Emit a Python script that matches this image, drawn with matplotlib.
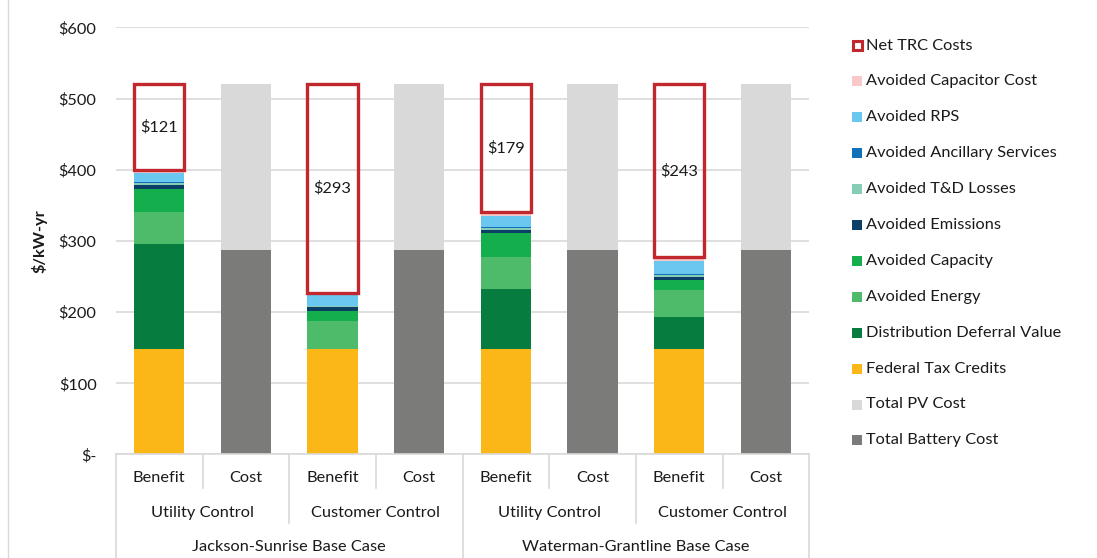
import numpy as np
import matplotlib.pyplot as plt
from matplotlib.patches import Rectangle
from matplotlib.lines import Line2D

plt.rcParams['font.family'] = ['Lato', 'DejaVu Sans']

# x slots: benefit/cost pairs for each control case
bar_labels = ['Benefit', 'Cost'] * 4
control_labels = ['Utility Control', 'Customer Control', 'Utility Control', 'Customer Control']
case_labels = ['Jackson-Sunrise Base Case', 'Waterman-Grantline Base Case']

# $/kW-yr, one entry per slot (zero where a component does not apply)
federal_tax_credits = [148, 0, 148, 0, 148, 0, 148, 0]
distribution_deferral = [148, 0, 0, 0, 85, 0, 45, 0]
avoided_energy = [44, 0, 39, 0, 44, 0, 38.5, 0]
avoided_capacity = [33, 0, 14.5, 0, 34, 0, 14, 0]
avoided_emissions = [5, 0, 5, 0, 4, 0, 4.5, 0]
avoided_td_losses = [2.8, 0, 1.5, 0, 2.5, 0, 2, 0]
avoided_ancillary = [1.4, 0, 0.5, 0, 1.5, 0, 1, 0]
avoided_rps = [12.6, 0, 15, 0, 16, 0, 19, 0]
avoided_capacitor = [4.2, 0, 3.5, 0, 6, 0, 5, 0]
total_battery_cost = [0, 287, 0, 287, 0, 287, 0, 287]
total_pv_cost = [0, 233, 0, 233, 0, 233, 0, 233]
net_trc_costs = [121, 0, 293, 0, 179, 0, 243, 0]

stack = [
    ('Total Battery Cost', total_battery_cost, '#7b7b79'),
    ('Total PV Cost', total_pv_cost, '#d9d9d9'),
    ('Federal Tax Credits', federal_tax_credits, '#fbb617'),
    ('Distribution Deferral Value', distribution_deferral, '#067c3f'),
    ('Avoided Energy', avoided_energy, '#4dbb6a'),
    ('Avoided Capacity', avoided_capacity, '#14ae4c'),
    ('Avoided Emissions', avoided_emissions, '#0b3f66'),
    ('Avoided T&D Losses', avoided_td_losses, '#85cdb5'),
    ('Avoided Ancillary Services', avoided_ancillary, '#1170ba'),
    ('Avoided RPS', avoided_rps, '#6ac8f0'),
    ('Avoided Capacitor Cost', avoided_capacitor, '#f9c9c9'),
]
trc_color = '#c0282d'
text_color = '#1a1a1a'
grid_color = '#d9d9d9'
fs = 11.8

fig = plt.figure(figsize=(10.97, 5.58), dpi=100)
ax = fig.add_axes([0.1057, 0.1855, 0.632, 0.7655])

x = np.arange(len(bar_labels))
width = 0.58
bottom = np.zeros(len(x))
for name, vals, color in stack:
    vals = np.array(vals, dtype=float)
    ax.bar(x, vals, width, bottom=bottom, color=color, zorder=2)
    bottom += vals

# net TRC shown as an outlined box on top of the benefit stacks
net = np.array(net_trc_costs, dtype=float)
for xi, b, n in zip(x, bottom, net):
    if n > 0:
        ax.bar(xi, n, width, bottom=b, facecolor='none', edgecolor=trc_color,
               linewidth=2.4, zorder=3)
        ax.text(xi, b + n / 2, f'${n:.0f}', ha='center', va='center',
                fontsize=fs, color=text_color, zorder=4)

ax.set_xlim(-0.5, len(x) - 0.5)
ax.set_ylim(0, 600)
ax.set_yticks(np.arange(0, 601, 100))
ax.set_yticklabels(['$-'] + [f'${v}' for v in range(100, 601, 100)])
ax.tick_params(axis='y', length=0, pad=14, labelsize=fs, colors=text_color)
ax.set_xticks([])
ax.yaxis.grid(True, color=grid_color, linewidth=1.2, zorder=0)
ax.set_axisbelow(True)
for s in ['top', 'right', 'left']:
    ax.spines[s].set_visible(False)
ax.spines['bottom'].set_color(grid_color)
ax.spines['bottom'].set_linewidth(1.2)
ax.set_ylabel('$/kW-yr', fontsize=fs, fontweight='bold', color=text_color, labelpad=8)

# multi-level category axis
tr = ax.get_xaxis_transform()
y1, y2, y3 = -0.055, -0.137, -0.217
for xi, lab in zip(x, bar_labels):
    ax.text(xi, y1, lab, transform=tr, ha='center', va='center', fontsize=fs, color=text_color)
for i, lab in enumerate(control_labels):
    ax.text(2 * i + 0.5, y2, lab, transform=tr, ha='center', va='center', fontsize=fs, color=text_color)
for i, lab in enumerate(case_labels):
    ax.text(4 * i + 1.5, y3, lab, transform=tr, ha='center', va='center', fontsize=fs, color=text_color)

sep_depth = {0.5: -0.079, 1.5: -0.16, 2.5: -0.079, 3.5: -0.245,
             4.5: -0.079, 5.5: -0.16, 6.5: -0.079, -0.5: -0.245, 7.5: -0.245}
for sx, depth in sep_depth.items():
    ax.add_line(Line2D([sx, sx], [0, depth], transform=tr, color=grid_color,
                       linewidth=1.2, clip_on=False))

# legend, top entry first
legend_items = [('Net TRC Costs', 'none', trc_color)] + \
    [(name, color, None) for name, _, color in reversed(stack[2:])] + \
    [(name, color, None) for name, _, color in reversed(stack[:2])]
W, H = fig.get_size_inches() * fig.dpi
for i, (name, face, edge) in enumerate(legend_items):
    yc = 45.5 + i * 35.9
    if edge:
        r = Rectangle((853 / W, 1 - (yc + 4.5) / H), 9 / W, 9 / H, facecolor='white',
                      edgecolor=edge, linewidth=2.2, transform=fig.transFigure)
    else:
        r = Rectangle((852 / W, 1 - (yc + 5) / H), 10 / W, 10 / H, facecolor=face,
                      edgecolor='none', transform=fig.transFigure)
    fig.add_artist(r)
    fig.text(866 / W, 1 - yc / H, name, ha='left', va='center', fontsize=fs, color=text_color)

fig.add_artist(Line2D([8 / W, 8 / W], [0, 1], transform=fig.transFigure, color=grid_color, linewidth=1))

fig.savefig('out.png', dpi=100)
